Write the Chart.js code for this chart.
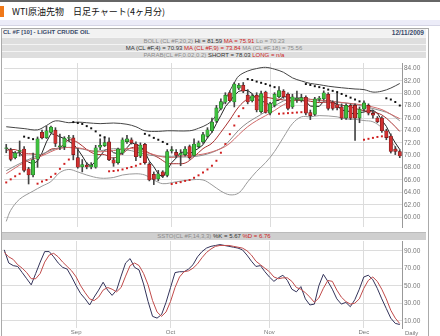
<!DOCTYPE html>
<html lang="ja">
<head>
<meta charset="UTF-8">
<title>WTI原油先物 日足チャート</title>
<script src="https://cdn.jsdelivr.net/npm/chart.js"></script>
<style>
  body { margin: 0; width: 440px; height: 336px; background: #fff; position: relative; overflow: hidden;
         font-family: "Liberation Sans", Arial, sans-serif; }
  .abs { position: absolute; }
  #topline { left: 0; top: 0; width: 440px; height: 2px; background: #666; }
  #icon { left: 0; top: 6px; width: 4px; height: 11px; background: #f07818; }
  #title { left: 12px; top: 5px; font-size: 9px; font-family: "Noto Sans CJK JP", sans-serif; color: #111; white-space: nowrap; }
  #band { left: 0; top: 20px; width: 440px; height: 5px; background: #ececf8; border-bottom: 1px solid #d4d4e4; }
  #frame { left: 1px; top: 28px; width: 426px; height: 310px; border: 1px solid #aaa; }
  #hdr { left: 2px; top: 29px; width: 424px; height: 8px; background: #f2f2f2; }
  #hdr .sym { position: absolute; left: 1px; top: 0; font-size: 6px; font-weight: bold; color: #3a4a6a; }
  #hdr .date { position: absolute; right: 2px; top: 0; font-size: 6.5px; font-weight: bold; color: #3a4a6a; }
  .row { left: 2px; width: 424px; height: 6px; background: #dedede; border-top: 1px solid #f4f4f4;
         text-align: center; font-size: 6px; line-height: 6px; white-space: nowrap; }
  .g { color: #8a8a8a; } .k { color: #333; } .r { color: #cc2222; }
  #ssto { left: 2px; top: 232px; width: 424px; height: 7px; background: #cfcfcf; border-top: 1px solid #bbb;
          text-align: center; font-size: 6px; line-height: 7px; white-space: nowrap; }
  #daily { left: 405px; top: 330px; font-size: 6px; color: #777; }
  canvas { position: absolute; left: 0; }
</style>
</head>
<body>
<div class="abs" id="topline"></div>
<div class="abs" id="icon"></div>
<div class="abs" id="title">WTI原油先物　日足チャート(4ヶ月分)</div>
<div class="abs" id="band"></div>
<div class="abs" id="frame"></div>
<div class="abs" id="hdr"><span class="sym">CL #F [10] - LIGHT CRUDE OIL</span><span class="date">12/11/2009</span></div>
<div class="abs row" style="top:37px"><span class="g">BOLL (CL #F,20,2)</span> <span class="k">Hi = 81.59</span> <span class="r">MA = 75.91</span> <span class="g">Lo = 70.23</span></div>
<div class="abs row" style="top:44px"><span class="k">MA (CL #F,4) = 70.93</span> <span class="r">MA (CL #F,9) = 73.84</span> <span class="g">MA (CL #F,18) = 75.56</span></div>
<div class="abs row" style="top:51px"><span class="g">PARAB(CL #F,0.02,0.2)</span> <span class="k">SHORT = 78.03</span> <span class="r">LONG = n/a</span></div>
<canvas id="price" width="428" height="172" style="top:59px"></canvas>
<div class="abs" id="ssto"><span class="g">SSTO(CL #F,14,3,3)</span> <span class="k">%K = 5.67</span> <span class="r">%D = 6.76</span></div>
<canvas id="stoch" width="428" height="96" style="top:240px"></canvas>
<div class="abs" id="daily">Daily</div>

<script>
// trading days, 2009
const dates = [
  '08/10','08/11','08/12','08/13','08/14','08/17','08/18','08/19','08/20','08/21','08/24','08/25','08/26','08/27','08/28','08/31',
  '09/01','09/02','09/03','09/04','09/08','09/09','09/10','09/11','09/14','09/15','09/16','09/17','09/18','09/21','09/22','09/23','09/24','09/25','09/28','09/29','09/30',
  '10/01','10/02','10/05','10/06','10/07','10/08','10/09','10/12','10/13','10/14','10/15','10/16','10/19','10/20','10/21','10/22','10/23','10/26','10/27','10/28','10/29','10/30',
  '11/02','11/03','11/04','11/05','11/06','11/09','11/10','11/11','11/12','11/13','11/16','11/17','11/18','11/19','11/20','11/23','11/24','11/25','11/26','11/27','11/30',
  '12/01','12/02','12/03','12/04','12/07','12/08','12/09','12/10','12/11'
];
const monthNames = { '09': 'Sep', '10': 'Oct', '11': 'Nov', '12': 'Dec' };

const open = [71.1,70.88,69.6,70.6,71.0,67.8,66.8,69.35,73.7,72.8, 73.7,74.05,71.4,71.4,72.75,72.8,69.6,68.1,68.4,68.1,
  68.05,71.3,71.55,72.15,69.25,68.8,70.35,72.2,72.5,71.8, 69.85,71.75,68.55,66.9,66.15,67.3,66.75,70.7,70.45,70.0,
  70.1,71.4,69.95,71.4,72.15,73.05,73.95,75.5,77.55,78.57, 80.1,78.6,80.85,81.3,79.7,78.8,79.7,77.05,80.2,76.8,
  78.05,79.45,80.35,79.85,77.8,79.0,78.85,79.35,76.9,76.6, 79.0,79.1,79.85,78.55,78.15,77.8,76.0,78.05,78.05,76.0,
  77.45,78.05,76.75,76.0,76.0,73.95,73.1,71.0,70.6];
const high = [71.75,71.13,70.6,72.3,71.4,68.05,70.35,72.95,74.05,74.7, 74.7,74.45,73.4,73.0,73.2,73.2,71.1,69.3,68.8,68.8,
  71.6,72.65,72.8,72.8,69.6,71.15,72.8,73.2,72.8,72.15, 72.0,71.9,68.8,67.3,67.55,67.5,70.9,71.4,70.9,70.9,
  71.4,71.65,72.65,72.3,73.7,74.45,76.0,78.05,79.1,80.1, 80.4,81.75,81.6,81.75,80.6,79.9,80.1,80.35,80.35,78.55,
  80.1,81.1,80.6,80.1,79.85,80.35,79.85,79.6,77.3,79.35, 79.5,80.4,80.1,78.8,80.0,78.3,78.3,78.3,78.3,77.8,
  78.8,78.3,77.3,76.25,76.25,74.2,73.45,71.4,70.9];
const low = [70.4,69.08,69.4,69.85,67.3,65.35,66.5,68.05,72.65,72.7, 73.55,71.4,70.9,70.9,72.3,69.25,67.9,67.3,67.8,67.8,
  67.9,70.9,71.4,69.1,68.2,68.55,70.1,71.9,71.8,69.1, 69.6,68.55,65.85,65.25,65.85,66.4,66.5,70.35,69.6,68.3,
  69.85,69.35,69.85,71.2,71.9,72.8,73.7,75.25,77.3,78.3, 78.6,77.8,80.6,80.1,78.3,78.6,77.0,76.8,76.8,76.5,
  77.8,79.25,79.2,77.3,77.55,78.55,78.6,76.5,75.75,76.4, 78.7,78.9,77.3,77.3,77.3,75.75,75.8,75.75,72.4,75.25,
  77.15,76.5,76.0,75.25,73.7,72.5,70.35,70.1,69.6];
const close = [71.2,69.34,70.36,70.8,67.55,66.8,69.25,72.65,72.8,73.95, 74.55,71.9,71.5,72.75,72.85,70.1,68.05,68.5,68.1,68.4,
  71.2,71.6,72.05,69.25,68.7,71.0,72.5,72.65,72.0,69.75, 71.65,68.8,66.0,66.1,67.0,66.7,70.6,70.9,69.95,70.3,
  71.0,69.6,71.8,72.0,73.35,74.1,75.35,77.65,78.65,79.7, 78.8,81.5,81.3,80.35,78.6,79.6,77.3,79.95,76.9,78.3,
  79.85,80.45,79.45,77.55,79.45,79.2,79.3,76.8,76.4,79.1, 79.25,80.1,77.55,77.55,77.65,76.0,78.05,76.0,76.0,77.45,
  78.45,76.8,76.45,75.4,73.95,72.85,70.6,70.6,69.87];

// moving average MA(4), one value per day
const ma4 = [71.3,70.6,70.3,70.43,69.51,68.88,68.6,69.06,70.38,72.16, 73.49,73.3,72.98,72.68,72.25,71.8,70.94,69.88,68.69,68.26,
  69.05,69.83,70.81,71.03,70.4,70.25,70.36,71.21,72.04,71.73, 71.51,70.55,69.05,68.14,66.98,66.45,67.6,68.8,69.54,70.44,
  70.54,70.21,70.68,71.1,71.69,72.81,73.7,75.11,76.44,77.84, 78.7,79.66,80.33,80.49,80.44,79.96,78.96,78.86,78.44,78.11,
  78.75,78.88,79.51,79.33,79.23,78.91,78.88,78.69,77.93,77.9, 77.89,78.71,79.0,78.61,78.21,77.19,77.31,76.93,76.51,76.88,
  76.98,77.18,77.29,76.78,75.65,74.66,73.2,72.0,70.93];

// smoother lines read at [day index, value]
const ma9 = [[0,70.8],[2,70.9],[4,70.3],[6,70.2],[8,70.08],[10,70.97],[12,71.22],[14,72.47],[16,72.05],[18,70.92],[20,70.16],
  [22,70.09],[24,69.54],[26,70.31],[28,71.22],[30,71.06],[32,70.34],[34,69.61],[36,68.73],[38,68.63],[40,68.73],[42,69.76],
  [44,71.06],[46,71.94],[48,73.72],[50,75.71],[52,77.82],[54,79.1],[56,79.53],[58,79.37],[60,79.13],[62,78.93],[64,78.8],
  [66,78.94],[68,78.72],[70,78.5],[72,78.57],[74,78.19],[76,77.96],[78,77.57],[80,77.19],[82,76.98],[84,76.51],[86,75.33],[88,73.84]];
const ma18 = [[0,67.5],[4,69.0],[8,70.2],[12,71.2],[16,71.1],[20,70.65],[24,71.05],[28,70.73],[32,70.02],[36,69.78],[40,69.71],
  [44,70.01],[48,71.1],[50,72.42],[52,74.07],[54,75.27],[56,76.16],[58,77.03],[60,77.96],[62,78.77],[64,79.19],[66,79.31],
  [68,79.01],[72,78.69],[76,78.44],[80,77.88],[84,77.16],[86,76.62],[88,75.56]];
const bollMid = [[0,67.0],[4,68.8],[8,69.9],[12,71.1],[16,71.2],[20,70.57],[24,70.75],[28,71.08],[32,70.3],[36,69.63],[40,69.93],
  [44,70.18],[48,71.06],[50,71.92],[52,73.32],[54,74.61],[56,75.59],[58,76.39],[60,77.23],[62,78.16],[64,78.74],[66,79.19],
  [68,79.04],[72,78.77],[76,78.44],[80,78.09],[84,77.37],[86,76.62],[88,75.91]];
const bollHi = [[0,74.6],[4,74.3],[7,74.1],[9,74.8],[11,75.55],[14,75.25],[16,75.35],[18,75.25],[21,75.1],[24,75.2],[27,75.0],
  [29,74.6],[31,73.95],[34,73.85],[36,73.95],[41,73.95],[43,74.35],[45,75.0],[46,75.6],[47,76.5],[48,77.6],[49,79.0],[50,80.4],
  [51,81.7],[52,82.8],[54,83.6],[56,84.0],[58,84.2],[60,83.9],[62,83.4],[64,82.5],[66,82.0],[68,81.6],[70,81.4],[72,81.15],
  [75,80.9],[78,80.7],[80,80.6],[82,80.2],[84,80.35],[86,80.85],[88,81.59]];
const bollLo = [[0,59.3],[1,61.1],[3,62.9],[6,64.2],[8,65.0],[10,65.75],[12,67.2],[14,67.7],[16,67.3],[18,66.8],[21,66.3],
  [24,66.4],[26,66.8],[29,67.0],[31,66.8],[33,66.0],[35,65.4],[38,65.7],[41,66.0],[44,66.0],[46,65.2],[48,64.2],[50,63.6],
  [52,63.9],[54,65.7],[56,67.4],[58,68.8],[60,70.6],[62,72.9],[64,75.1],[66,76.2],[68,76.2],[70,76.4],[74,76.2],[76,75.85],
  [78,75.8],[80,75.6],[82,75.4],[84,74.4],[86,72.4],[88,70.23]];

// parabolic SAR, one value per day (above price = short, below = long)
const sar = [65.6,66.1,66.6,67.0,73.0,72.8,72.6,65.4,65.75,66.0, 66.5,67.0,67.8,68.6,69.3,75.35,75.2,75.05,74.7,74.35,
  73.85,73.2,72.9,67.4,67.45,67.55,67.7,67.9,68.1,68.3, 68.6,73.45,73.2,72.8,72.5,72.15,71.8,65.35,65.5,65.65,
  65.85,66.0,66.35,66.75,67.2,67.7,68.3,69.1,70.4,71.8, 73.4,74.8,76.3,77.6,82.3,82.15,81.9,81.7,81.5,81.25,
  81.0,76.7,76.75,76.8,76.85,76.9,76.95,81.5,81.35,81.15, 81.0,80.85,80.6,80.4,80.2,79.9,79.6,79.3,79.0,78.7,
  72.5,72.65,72.8,72.95,73.05,79.2,79.0,78.6,78.03];

// slow stochastic (14,3,3)
const stochK = [91,76,73,72,65,58,51,64,77,89, 89,83,76,71,69,60,50,41,35,28, 37,45,54,45,39,45,61,76,81,71,
  68,52,32,15,13,17,31,48,65,66, 66,69,74,83,89,93,95,96,97,96, 95,94,93,91,85,78,72,73,66,60,
  55,59,62,56,46,43,49,35,28,29, 50,63,55,46,35,29,31,26,34,46, 60,62,57,47,35,24,13,7,5.67];
const stochD = [88,83,80,74,70,65,58,58,64,77, 85,87,83,77,72,67,60,50,42,35, 33,37,45,48,46,43,48,61,73,76,
  73,64,51,33,20,15,20,32,48,60, 66,67,70,75,82,88,92,95,96,96, 96,95,94,93,90,85,78,74,70,66,
  60,58,59,59,55,48,46,42,37,31, 36,47,56,55,45,37,32,29,30,35, 47,56,60,55,46,35,22,13,6.76];

const priceTicks = [60,62,64,66,68,70,72,74,76,78,80,82,84];
const stochTicks = [10,20,30,40,50,60,70,80,90];

Chart.defaults.font.family = '"Liberation Sans", Arial, sans-serif';
Chart.defaults.animation = false;

const isMonthStart = i => i > 0 && dates[i].slice(0, 2) !== dates[i - 1].slice(0, 2);
const pts = arr => arr.map(([i, v]) => ({ x: dates[i], y: v }));
const noPad = s => { s.paddingTop = 0; s.paddingBottom = 0; s.paddingLeft = 0; s.paddingRight = 0; };

function xScale(showLabels) {
  return {
    offset: true,
    grid: { offset: false, drawTicks: false, color: c => isMonthStart(c.index) ? '#dcdcdc' : 'rgba(0,0,0,0)' },
    border: { display: false },
    ticks: {
      display: showLabels, autoSkip: false, maxRotation: 0, minRotation: 0, padding: 1,
      font: { size: 6 }, color: '#777',
      callback: (v, i) => isMonthStart(i) ? monthNames[dates[i].slice(0, 2)] : ''
    },
    afterFit: s => { s.height = showLabels ? 8 : 0; noPad(s); }
  };
}
function yScale(min, max, tickList) {
  return {
    position: 'right', min: min, max: max,
    afterBuildTicks: s => { s.ticks = tickList.map(v => ({ value: v })); },
    grid: { color: '#dcdcdc', drawTicks: false },
    border: { color: '#999' },
    ticks: { font: { size: 6.5 }, color: '#777', padding: 2, callback: v => v.toFixed(2) },
    afterFit: s => { s.width = 26; noPad(s); }
  };
}
const line = (label, data, color, order) => ({
  type: 'line', label: label, data: data, borderColor: color, borderWidth: 1,
  pointRadius: 0, tension: 0.35, spanGaps: true, order: order
});

new Chart(document.getElementById('price'), {
  type: 'bar',
  data: {
    labels: dates,
    datasets: [
      { label: 'body', data: dates.map((d, i) => [open[i], close[i]]), grouped: false, barThickness: 3.4,
        borderSkipped: false, borderWidth: 0.6,
        backgroundColor: c => close[c.dataIndex] >= open[c.dataIndex] ? '#3fc03f' : '#d03030',
        borderColor: c => close[c.dataIndex] >= open[c.dataIndex] ? '#1f6a1f' : '#6a1616', order: 1 },
      { label: 'wick', data: dates.map((d, i) => [low[i], high[i]]), grouped: false, barThickness: 1,
        backgroundColor: '#444', borderWidth: 0, order: 2 },
      line('BOLL Hi', pts(bollHi), '#444', 3),
      line('BOLL Lo', pts(bollLo), '#9a9a9a', 3),
      line('BOLL MA', pts(bollMid), '#d06a6a', 3),
      line('MA18', pts(ma18), '#8c8c8c', 3),
      line('MA9', pts(ma9), '#a83030', 3),
      Object.assign(line('MA4', ma4, '#222', 3), { tension: 0 }),
      { type: 'line', label: 'SAR', data: sar, showLine: false, pointStyle: 'rect', pointRadius: 1.4,
        pointBorderWidth: 0,
        pointBackgroundColor: c => sar[c.dataIndex] > close[c.dataIndex] ? '#111' : '#d02020', order: 0 }
    ]
  },
  options: {
    responsive: false, devicePixelRatio: 1,
    layout: { padding: { left: 2, right: 0, top: 0, bottom: 0 } },
    plugins: { legend: { display: false }, tooltip: { enabled: false } },
    scales: { x: xScale(false), y: yScale(58.4, 84.9, priceTicks) }
  }
});

new Chart(document.getElementById('stoch'), {
  type: 'line',
  data: {
    labels: dates,
    datasets: [
      { label: '%D', data: stochD, borderColor: '#c04a4a', borderWidth: 1, pointRadius: 0 },
      { label: '%K', data: stochK, borderColor: '#33335a', borderWidth: 1, pointRadius: 0 }
    ]
  },
  options: {
    responsive: false, devicePixelRatio: 1,
    layout: { padding: { left: 2, right: 0, top: 1, bottom: 0 } },
    plugins: { legend: { display: false }, tooltip: { enabled: false } },
    scales: { x: xScale(true), y: yScale(1.7, 101.1, stochTicks) }
  }
});
</script>
</body>
</html>
